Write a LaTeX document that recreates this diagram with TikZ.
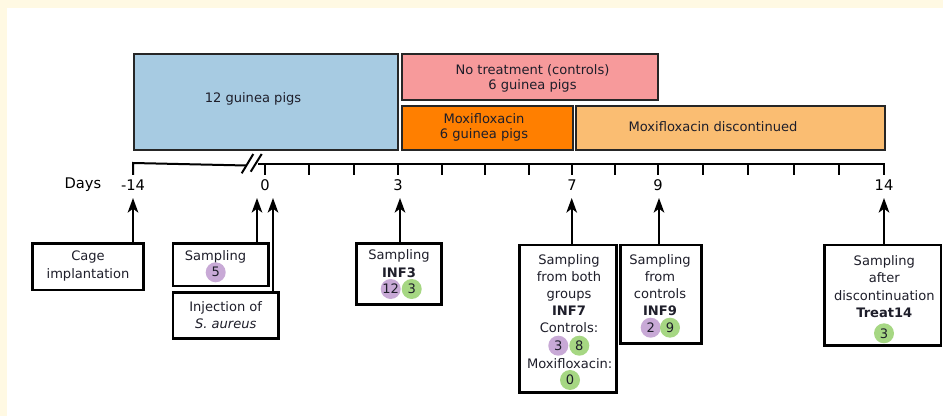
\documentclass[tikz,border=0pt]{standalone}
\usepackage{fontspec}
\setmainfont{DejaVu Sans}
\usetikzlibrary{arrows.meta,calc}
\definecolor{cream}{HTML}{FFF9E3}
\definecolor{bluebox}{HTML}{A7CBE2}
\definecolor{pinkbox}{HTML}{F79A9B}
\definecolor{orangebox}{HTML}{FF7F00}
\definecolor{lorangebox}{HTML}{FABD72}
\definecolor{purp}{HTML}{C8A9D6}
\definecolor{grn}{HTML}{A6D783}
\definecolor{txt}{HTML}{1E1E2A}
\begin{document}
\begin{tikzpicture}[x=0.75pt,y=-0.75pt,
  phase/.style={draw=black!85, line width=1.3pt, inner sep=0pt, outer sep=0pt},
  evbox/.style={draw=black, line width=2pt, fill=white, inner sep=0pt, outer sep=0pt},
  lbl/.style={font=\fontsize{9.8}{12.9}\selectfont, text=txt, align=center, inner sep=0pt, anchor=north},
  toplbl/.style={font=\fontsize{9.8}{11.8}\selectfont, text=txt, align=center, inner sep=0pt},
  axlbl/.style={font=\fontsize{11}{13}\selectfont, text=black, inner sep=0pt},
  cnt/.style={circle, minimum size=15pt, inner sep=0pt, font=\fontsize{9.8}{12}\selectfont, text=txt},
  pc/.style={cnt, fill=purp},
  gc/.style={cnt, fill=grn},
  axisline/.style={line width=1.5pt, black},
  up/.style={line width=1.2pt, -{Stealth[length=11pt,width=8pt,inset=3pt]}},
]
% background and bounding box
\fill[cream] (0,0) rectangle (943,416);
\fill[white] (7,8) rectangle (943,416);
\useasboundingbox (0,0) rectangle (943,416);

% phase boxes
\node[phase, fill=bluebox, minimum width=198pt, minimum height=72pt] (blue) at (266,102) {};
\node[toplbl] (bluet) at (253,99) {12 guinea pigs};
\node[phase, fill=pinkbox, minimum width=192pt, minimum height=34.5pt] (pink) at (530,77) {};
\node[toplbl, anchor=north] (pinkt) at (532.5,64) {No treatment (controls)\\6 guinea pigs};
\node[phase, fill=orangebox, minimum width=128.25pt, minimum height=33pt] (orng) at (487.5,128) {};
\node[toplbl, anchor=north] (orngt) at (484,113) {Moxifloxacin\\6 guinea pigs};
\node[phase, fill=lorangebox, minimum width=231.75pt, minimum height=33pt] (lorng) at (730.5,128) {};
\node[toplbl] (lorngt) at (713,127) {Moxifloxacin discontinued};

% axis
\draw[axisline] (133,175) -- (133,163) -- (246,165.5);
\draw[axisline] (258,164) -- (884,164) -- (884,175);
\draw[line width=1.5pt] (241.7,173.3) -- (253.3,154);
\draw[line width=1.5pt] (250.7,171.7) -- (261.7,154);
\foreach \xx in {265,309.3,353.7,398,441.5,485,528.5,572,615,658,703.2,748.4,793.6,838.8}
  \draw[axisline] (\xx,164) -- (\xx,175);

\node[axlbl] (days) at (83,185) {Days};
\node[axlbl] (dm14) at (133,185) {-14};
\node[axlbl] (d0) at (265,185) {0};
\node[axlbl] (d3) at (398,185) {3};
\node[axlbl] (d7) at (572,185) {7};
\node[axlbl] (d9) at (658,185) {9};
\node[axlbl] (d14) at (884,185) {14};

% event boxes
\node[evbox, minimum width=83pt, minimum height=35pt] (cage) at (88,266.7) {};
\node[lbl] (caget) at (88,251) {Cage\\implantation};

\node[evbox, minimum width=71.5pt, minimum height=32pt] (s0) at (220.7,264.7) {};
\node[lbl] (s0t) at (215.5,250) {Sampling};
\node[pc] (s0a) at (215.7,272.3) {5};

\node[evbox, minimum width=79pt, minimum height=34.2pt] (inj) at (225.7,315.5) {};
\node[lbl] (injt) at (225.7,301) {Injection of\\\textit{S. aureus}};

\node[evbox, minimum width=63.75pt, minimum height=45.75pt] (s3) at (399.2,273.8) {};
\node[lbl] (s3t) at (399,249.7) {Sampling\\\textbf{INF3}};
\node[pc] (s3a) at (390.7,289) {12};
\node[gc] (s3b) at (411.7,289) {3};

\node[evbox, minimum width=73pt, minimum height=110.5pt] (s7) at (568,318.7) {};
\node[lbl] (s7t) at (569,254) {Sampling\\from both\\groups\\\textbf{INF7}\\Controls:};
\node[pc] (s7a) at (558.3,345.7) {3};
\node[gc] (s7b) at (579.3,345.7) {8};
\node[lbl] (s7m) at (569.7,358) {Moxifloxacin:};
\node[gc] (s7c) at (570,380) {0};

\node[evbox, minimum width=61pt, minimum height=73.7pt] (s9) at (661,294.2) {};
\node[lbl] (s9t) at (660,254) {Sampling\\from\\controls\\\textbf{INF9}};
\node[pc] (s9a) at (650.7,327.7) {2};
\node[gc] (s9b) at (670,327.7) {9};

\node[evbox, minimum width=87.5pt, minimum height=75.5pt] (s14) at (882.7,295.3) {};
\node[lbl, font=\fontsize{9.8}{13.2}\selectfont] (s14t) at (884.3,255) {Sampling\\after\\discontinuation\\\textbf{Treat14}};
\node[gc] (s14a) at (884,333.3) {3};

% arrows
\coordinate (tm14) at (133,198);
\coordinate (ts0) at (257,198);
\coordinate (tinj) at (273,198);
\coordinate (ts3) at (400,198);
\coordinate (ts7) at (571.7,198);
\coordinate (ts9) at (659,198);
\coordinate (ts14) at (884,198);
\draw[up] (cage.north -| tm14) -- (tm14);
\draw[up] (s0.north -| ts0) -- (ts0);
\draw[up] (inj.north -| tinj) -- (tinj);
\draw[up] (s3.north -| ts3) -- (ts3);
\draw[up] (s7.north -| ts7) -- (ts7);
\draw[up] (s9.north -| ts9) -- (ts9);
\draw[up] (s14.north -| ts14) -- (ts14);
\end{tikzpicture}
\end{document}
